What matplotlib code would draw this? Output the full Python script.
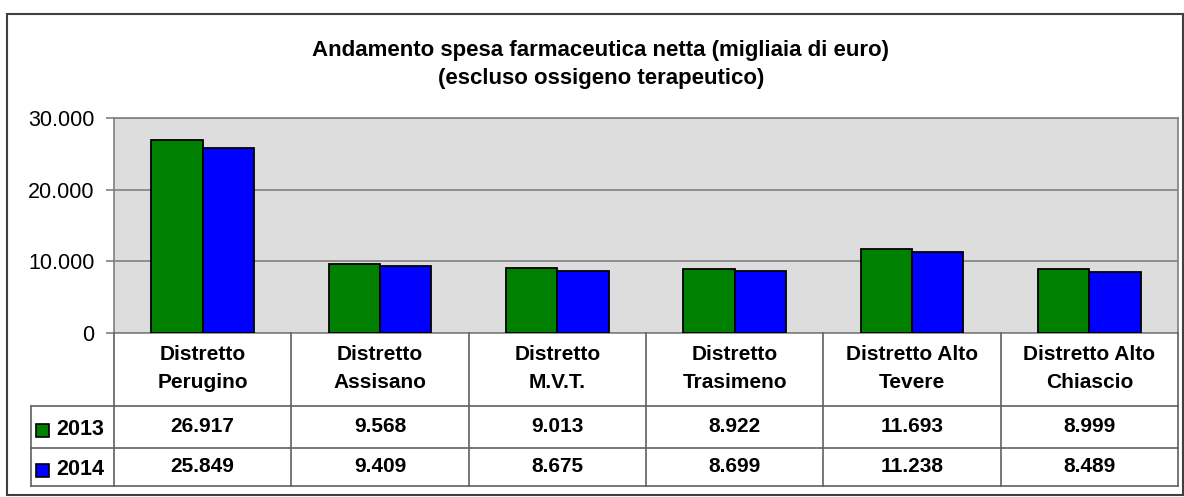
import matplotlib
matplotlib.use('Agg')
import matplotlib.pyplot as plt
from matplotlib.patches import Rectangle
import numpy as np

plt.rcParams['font.family'] = ['Liberation Sans', 'DejaVu Sans']

title = "Andamento spesa farmaceutica netta (migliaia di euro)\n(escluso ossigeno terapeutico)"
categories = ["Distretto\nPerugino", "Distretto\nAssisano", "Distretto\nM.V.T.",
              "Distretto\nTrasimeno", "Distretto Alto\nTevere", "Distretto Alto\nChiascio"]
series_names = ["2013", "2014"]
values_2013 = [26917, 9568, 9013, 8922, 11693, 8999]
values_2014 = [25849, 9409, 8675, 8699, 11238, 8489]
colors = ["#008000", "#0000FF"]
yticks = [0, 10000, 20000, 30000]


def fmt(v):
    return f"{v:,}".replace(",", ".")


W, H = 1184, 497
fig = plt.figure(figsize=(W / 100, H / 100), dpi=100)


def fx(px):
    return px / W


def fy(py):
    return 1 - py / H


# outer frame
fig.patches.append(Rectangle((fx(7), fy(495)), fx(1183) - fx(7), fy(14) - fy(495),
                             transform=fig.transFigure, fill=False,
                             edgecolor='#404040', linewidth=1.5))

fig.text(fx(601), fy(64.5), title, ha='center', va='center', fontsize=16,
         fontweight='bold', linespacing=1.45)

L, R, T, B = 114, 1178, 118, 333
ax = fig.add_axes([fx(L), fy(B), fx(R) - fx(L), fy(T) - fy(B)])
ax.set_facecolor('#DDDDDD')
x = np.arange(len(categories))
w = 0.29
ax.bar(x - w / 2, values_2013, w, color=colors[0], edgecolor='black', linewidth=1.3, zorder=3)
ax.bar(x + w / 2, values_2014, w, color=colors[1], edgecolor='black', linewidth=1.3, zorder=3)
ax.set_xlim(-0.5, len(categories) - 0.5)
ax.set_ylim(0, 30000)
ax.set_yticks(yticks)
ax.set_yticklabels([fmt(v) for v in yticks], fontsize=15.5)
ax.yaxis.grid(True, color='#808080', linewidth=1.2, zorder=0)
ax.set_axisbelow(True)
ax.set_xticks([])
ax.tick_params(axis='y', length=6, width=1.2, color='#808080', pad=8)
for s in ax.spines.values():
    s.set_color('#808080')
    s.set_linewidth(1.2)

# data table
colw = (R - L) / len(categories)
xmin = -0.5 - (L - 31) / colw
tax = fig.add_axes([fx(31), fy(486), fx(R) - fx(31), fy(333) - fy(486)])
tax.set_xlim(xmin, len(categories) - 0.5)
tax.set_ylim(153, 0)
tax.axis('off')
lc = '#606060'
lw = 1.2
for i in range(len(categories) + 1):
    tax.plot([i - 0.5, i - 0.5], [0, 153], color=lc, lw=lw, clip_on=False)
tax.plot([xmin, xmin], [73, 153], color=lc, lw=lw, clip_on=False)
for yy in [73, 115, 153]:
    tax.plot([xmin, len(categories) - 0.5], [yy, yy], color=lc, lw=lw, clip_on=False)

for i, c in enumerate(categories):
    tax.text(i, 35.5, c, ha='center', va='center', fontsize=15, fontweight='bold',
             linespacing=1.65)

for row, (name, vals, col) in enumerate(zip(series_names, [values_2013, values_2014], colors)):
    yc = 93 + row * 40
    for i, v in enumerate(vals):
        tax.text(i, yc, fmt(v), ha='center', va='center', fontsize=15, fontweight='bold')
    tax.add_patch(Rectangle((xmin + 5 / colw, yc - 2), 13 / colw, 13,
                            facecolor=col, edgecolor='black', linewidth=1.2, clip_on=False))
    tax.text(xmin + 25 / colw, yc + 3.5, name, ha='left', va='center', fontsize=15.5,
             fontweight='bold')

fig.savefig('out.png', dpi=100)
